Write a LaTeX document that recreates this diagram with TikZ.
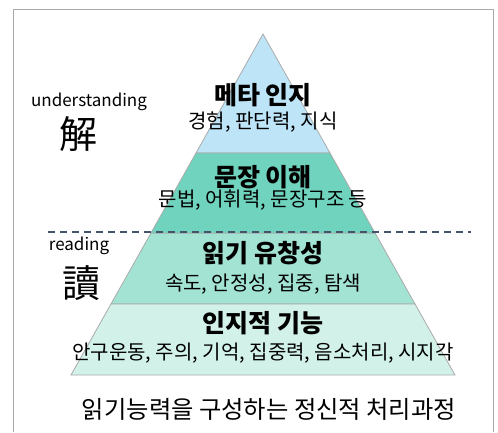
\documentclass[tikz,border=0pt]{standalone}
\usepackage{fontspec}
\setmainfont{Noto Sans CJK KR}
\usepackage{tikz}
\usetikzlibrary{calc}

\definecolor{meta}{HTML}{BEE4F8}
\definecolor{sent}{HTML}{70D3BD}
\definecolor{flu}{HTML}{A3E3D3}
\definecolor{cog}{HTML}{D2F1E9}
\definecolor{edge}{HTML}{AAAAAA}
\definecolor{sep}{HTML}{44546A}

\tikzset{
  layer/.style={draw=edge, line width=0.8pt},
  title/.style={font=\fontsize{25}{27}\selectfont\bfseries, inner sep=0pt},
  items/.style={font=\fontsize{20}{22}\selectfont, inner sep=0pt},
  side/.style={font=\fontsize{17}{19}\selectfont, inner sep=0pt},
  hanja/.style={font=\fontsize{38}{40}\selectfont, inner sep=0pt}
}

\begin{document}
\begin{tikzpicture}[x=1pt, y=-1pt]
    \useasboundingbox (0,0) rectangle (498,432);
    % Frame
    \draw[edge, line width=1pt] (13,432) -- (13,9) -- (493,9) -- (493,432);
    % Pyramid corners
    \coordinate (apex) at (263,34);
    \coordinate (bl) at (71,375);
    \coordinate (br) at (455,375);
    \coordinate (l1) at ($(apex)!0.349!(bl)$);
    \coordinate (r1) at ($(apex)!0.349!(br)$);
    \coordinate (l2) at ($(apex)!0.584!(bl)$);
    \coordinate (r2) at ($(apex)!0.584!(br)$);
    \coordinate (l3) at ($(apex)!0.792!(bl)$);
    \coordinate (r3) at ($(apex)!0.792!(br)$);
    % Layers
    \filldraw[layer, fill=meta] (apex) -- (r1) -- (l1) -- cycle;
    \filldraw[layer, fill=sent] (l1) -- (r1) -- (r2) -- (l2) -- cycle;
    \filldraw[layer, fill=flu] (l2) -- (r2) -- (r3) -- (l3) -- cycle;
    \filldraw[layer, fill=cog] (l3) -- (r3) -- (br) -- (bl) -- cycle;
    % Separator
    \coordinate (sepL) at (48,232);
    \coordinate (sepR) at (471,232);
    \draw[sep, line width=1.5pt, dash pattern=on 7pt off 5pt] (sepL) -- (sepR);
    % Layer texts
    \node[title] (t0) at (263,95) {메타 인지};
    \node[items] (s0) at (263,122) {경험, 판단력, 지식};
    \node[title] (t1) at (263,177) {문장 이해};
    \node[items] (s1) at (263,200) {문법, 어휘력, 문장구조 등};
    \node[title] (t2) at (263,253) {읽기 유창성};
    \node[items] (s2) at (263,284) {속도, 안정성, 집중, 탐색};
    \node[title] (t3) at (263,323) {인지적 기능};
    \node[items] (s3) at (263,353) {안구운동, 주의, 기억, 집중력, 음소처리, 시지각};
    % Side labels
    \node[side] (under) at (89,102) {understanding};
    \node[hanja] (hae) at (78,134) {解};
    \node[side] (read) at (79,246) {reading};
    \node[hanja] (dok) at (81,283) {讀};
    % Caption
    \node[font=\fontsize{24.3}{26}\selectfont, inner sep=0pt] (cap) at (269,409) {읽기능력을 구성하는 정신적 처리과정};
\end{tikzpicture}
\end{document}
